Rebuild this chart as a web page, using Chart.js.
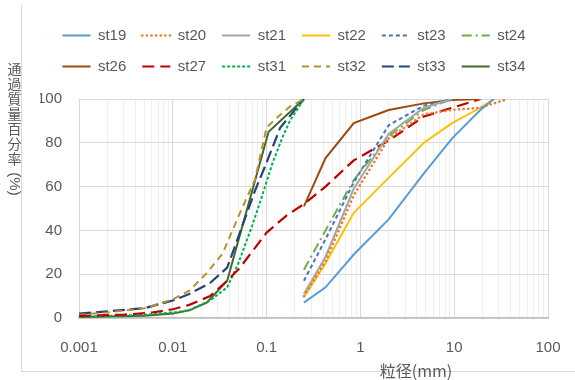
<!DOCTYPE html>
<html>
<head>
<meta charset="utf-8">
<script src="https://cdn.jsdelivr.net/npm/chart.js@4"></script>
<style>
  html, body { margin: 0; padding: 0; background: #fff; }
  #wrap { position: relative; width: 575px; height: 380px; }
  #frame {
    position: absolute; left: 21px; top: 5px; width: 560px; height: 366px;
    border-left: 1px solid #d9d9d9; border-bottom: 1px solid #d9d9d9;
  }
  #chart { position: absolute; left: 0; top: 0; }
</style>
</head>
<body>
<div id="wrap">
  <div id="frame"></div>
  <canvas id="chart" width="575" height="380"></canvas>
</div>
<script>
// grain size (mm) vs percent passing, one array pair per station
const coarseSizes = [0.25, 0.425, 0.85, 2, 4.75, 9.5, 19, 26.5, 37.5];
const st19 = [7, 14, 29, 45, 66, 82, 95, 100];
const st20 = [10, 26, 56, 82, 93, 95, 96, 98, 100];
const st21 = [11, 28, 59, 84, 96, 100];
const st22 = [9.5, 25, 48, 64, 80, 89, 96, 100];
const st23 = [17, 36, 62, 88, 97, 100];
const st24 = [22, 40, 63, 83, 95, 100];
const st26 = [51, 73, 89, 95, 98, 99.5, 100];

const st27Sizes = [0.001, 0.003, 0.006, 0.01, 0.015, 0.025, 0.038, 0.052, 0.1, 0.165, 0.25, 0.425, 0.85, 2, 4.75, 9.5, 19];
const st27 = [1, 1.5, 2.5, 4, 6, 10, 17, 23, 39, 47, 52, 60, 72, 81, 92, 96, 100];
const st31Sizes = [0.001, 0.005, 0.01, 0.015, 0.025, 0.038, 0.05, 0.07, 0.09, 0.114, 0.146, 0.177, 0.25];
const st31 = [0.5, 1.5, 2.5, 3.6, 8, 14, 25, 42, 56, 70, 82, 90, 100];
const st32Sizes = [0.001, 0.002, 0.005, 0.01, 0.015, 0.023, 0.034, 0.052, 0.075, 0.1, 0.133, 0.177, 0.25];
const st32 = [1.5, 2.5, 4.5, 8.5, 12.5, 20.5, 29.5, 48, 63, 87, 92, 96.5, 100];
const st33Sizes = [0.001, 0.002, 0.005, 0.01, 0.015, 0.025, 0.038, 0.075, 0.1, 0.14, 0.25];
const st33 = [2, 3, 4.5, 8, 11, 16, 23, 58, 71, 87, 100];
const st34Sizes = [0.001, 0.005, 0.01, 0.015, 0.023, 0.038, 0.105, 0.25];
const st34 = [0.5, 1, 2, 3.5, 7, 17, 85, 100];

const xDecades = [0.001, 0.01, 0.1, 1, 10, 100];
const xTickLabels = ["0.001", "0.01", "0.1", "1", "10", "100"];
const yTitleChars = ["通", "過", "質", "量", "百", "分", "率"];
const yTitleTail = "(%)";
const xTitle = "粒径(mm)";

const FONT = "'Liberation Sans', 'Noto Sans CJK JP', sans-serif";
const TEXT = "#595959";

function pts(sizes, vals) {
  return vals.map((v, i) => ({ x: sizes[i], y: v }));
}

function series(label, sizes, vals, color, dash, cap, width) {
  return {
    label, data: pts(sizes, vals),
    borderColor: color, backgroundColor: color,
    borderWidth: width || 2, borderDash: dash || [], borderCapStyle: cap || "butt",
    pointRadius: 0, tension: 0, fill: false,
  };
}

const datasets = [
  series("st19", coarseSizes, st19, "#5B9BD5"),
  series("st20", coarseSizes, st20, "#ED7D31", [0.1, 4.5], "round", 2.6),
  series("st21", coarseSizes, st21, "#A5A5A5"),
  series("st22", coarseSizes, st22, "#FFC000"),
  series("st23", coarseSizes, st23, "#4472C4", [4, 3]),
  series("st24", coarseSizes, st24, "#70AD47", [10, 4, 2, 4]),
  series("st26", coarseSizes, st26, "#9E480E"),
  series("st27", st27Sizes, st27, "#C00000", [12, 6], "butt", 2.2),
  series("st31", st31Sizes, st31, "#00B050", [3, 2]),
  series("st32", st32Sizes, st32, "#B8912F", [7, 5]),
  series("st33", st33Sizes, st33, "#264478", [12, 5], "butt", 2.2),
  series("st34", st34Sizes, st34, "#43682B"),
];

// Excel-style stacked vertical title and offset x title
const axisTitles = {
  id: "axisTitles",
  afterDraw(chart) {
    const ctx = chart.ctx;
    ctx.save();
    ctx.fillStyle = TEXT;
    ctx.textAlign = "center";
    ctx.textBaseline = "middle";
    ctx.font = "14px 'Noto Sans CJK JP', sans-serif";
    yTitleChars.forEach((ch, i) => ctx.fillText(ch, 14.5, 68.5 + i * 15));
    ctx.font = "15px " + FONT;
    ctx.save();
    ctx.translate(14.5, 184);
    ctx.rotate(Math.PI / 2);
    ctx.fillText(yTitleTail, 0, 0);
    ctx.restore();
    ctx.font = "16px 'Noto Sans CJK JP', sans-serif";
    ctx.fillText(xTitle, 416, 371);
    ctx.restore();
  }
};

function isDecade(v) {
  const l = Math.log10(v);
  return Math.abs(l - Math.round(l)) < 1e-6;
}

new Chart(document.getElementById("chart"), {
  type: "line",
  data: { datasets },
  plugins: [axisTitles],
  options: {
    responsive: false,
    animation: false,
    layout: { padding: { top: 12, left: 40, right: 27, bottom: 0 } },
    scales: {
      x: {
        type: "logarithmic", min: 0.001, max: 100,
        afterBuildTicks(scale) {
          const ticks = [];
          xDecades.forEach((d, i) => {
            if (i === xDecades.length - 1) { ticks.push({ value: d }); return; }
            for (let m = 1; m <= 9; m++) ticks.push({ value: +(d * m).toPrecision(6) });
          });
          scale.ticks = ticks;
        },
        afterFit(scale) {
          scale.height = 62;
          scale.paddingLeft = 0;
          scale.paddingRight = 0;
        },
        grid: {
          drawTicks: false,
          color: (c) => (c.tick && isDecade(c.tick.value)) ? "#d9d9d9" : "#efefef",
        },
        border: { color: "#bfbfbf", width: 1.5 },
        ticks: {
          autoSkip: false, maxRotation: 0, padding: 21, color: TEXT,
          font: { family: FONT, size: 15 },
          callback: (v) => isDecade(v) ? xTickLabels[xDecades.findIndex(d => Math.abs(d - v) < d * 1e-6)] : "",
        },
      },
      y: {
        min: 0, max: 100,
        afterFit(scale) { scale.width = 39; },
        grid: { drawTicks: false, color: "#d9d9d9" },
        border: { display: false },
        ticks: { stepSize: 20, padding: 17, color: TEXT, font: { family: FONT, size: 15 } },
      },
      gap: {
        type: "linear", position: "top", display: true,
        grid: { display: false, drawTicks: false },
        border: { display: false },
        ticks: { display: false },
        afterFit(scale) { scale.height = 15; },
      },
    },
    plugins: {
      tooltip: { enabled: false },
      legend: {
        position: "top",
        labels: {
          usePointStyle: true, pointStyle: "line", pointStyleWidth: 28, padding: 16,
          color: TEXT, font: { family: FONT, size: 15 },
          generateLabels: (chart) => chart.data.datasets.map((ds, i) => ({
            text: ds.label,
            strokeStyle: ds.borderColor, fillStyle: ds.borderColor,
            lineWidth: ds.borderWidth, lineDash: ds.borderDash, lineCap: ds.borderCapStyle,
            pointStyle: "line", fontColor: TEXT, hidden: false, datasetIndex: i,
          })),
        },
      },
    },
  },
});
</script>
</body>
</html>
